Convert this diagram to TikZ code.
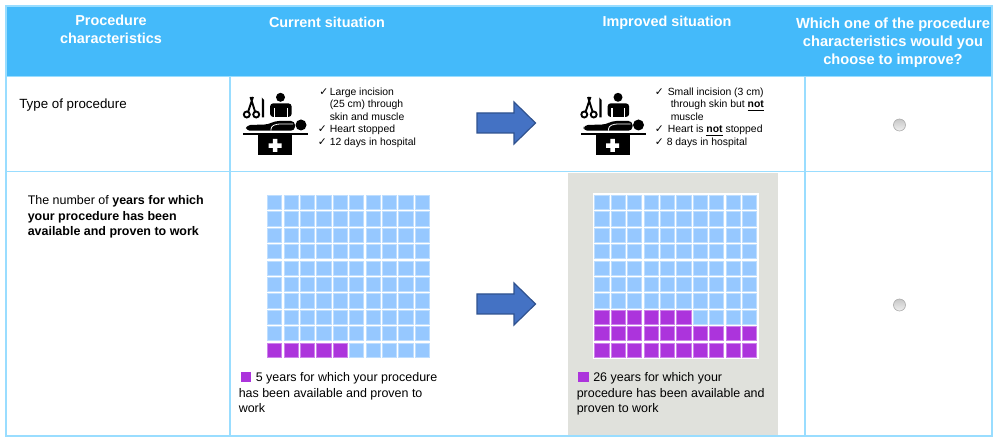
\documentclass[tikz,border=0pt]{standalone}
\usepackage{fontspec}
\setmainfont{Liberation Sans}
\newfontfamily\checkfont{DejaVu Sans}
\definecolor{headblue}{RGB}{68,186,250}
\definecolor{ruleblue}{RGB}{153,221,255}
\definecolor{cellblue}{RGB}{150,200,255}
\definecolor{cellrim}{RGB}{190,222,255}
\definecolor{cellpurple}{RGB}{172,52,220}
\definecolor{rimpurple}{RGB}{205,130,235}
\definecolor{panelgrey}{RGB}{224,225,220}
\definecolor{arrowblue}{RGB}{68,114,196}
\definecolor{arrowrim}{RGB}{47,82,143}
\newcommand{\bignot}{\underline{\textbf{not}}}
\tikzset{
  rule/.style={draw=ruleblue,line width=1.1pt},
  cell/.style={fill=cellblue,draw=cellrim,line width=0.4pt},
  purplecell/.style={fill=cellpurple,draw=rimpurple,line width=0.4pt},
  bigarrow/.style={fill=arrowblue,draw=arrowrim,line width=0.9pt,line join=miter},
  radio/.style={circle,minimum size=9pt,inner sep=0pt,draw=black!32,line width=0.5pt,top color=black!22,bottom color=black!6},
  headtext/.style={anchor=north,inner sep=0.75pt,align=center,text=white,font=\fontsize{10.8}{13}\selectfont\bfseries},
  tabletext/.style={anchor=north west,inner sep=0.75pt,align=left,font=\fontsize{7.8}{9.4}\selectfont},
  checktext/.style={anchor=north west,inner sep=0.75pt,font=\fontsize{8}{9.4}\checkfont},
  bodytext/.style={anchor=north west,inner sep=0.75pt,align=left,font=\fontsize{9.35}{11.6}\selectfont},
  surgery/.pic={
    \begin{scope}[yscale=-1]
    % scissors
    \draw[line width=1.4pt] (4.7,16) -- (10,0) (12.5,16) -- (7.5,0);
    \draw[fill=white,line width=1.4pt] (3.8,17.5) circle (3) (13.2,17.5) circle (3);
    % scalpel
    \fill (18.8,0.5) -- (21,3) -- (21,20.5) -- (18.8,20.5) -- cycle;
    % surgeon
    \fill (37.5,0.3) circle (4.5);
    \fill[rounded corners=2.5pt] (27,20) -- (27,6.3) -- (48.7,6.3) -- (48.7,20) -- cycle;
    \draw[white,line width=0.8pt] (31.5,11.5) -- (31.5,20) (44.2,11.5) -- (44.2,20);
    % patient
    \fill[rounded corners=3pt] (2.7,33.7) -- (3.5,28) -- (25,27.5) -- (32,24) -- (52,24) -- (52,33.7) -- cycle;
    \draw[white,line width=0.6pt,rounded corners=2pt] (28,33.7) -- (28,29.5) -- (34,27) -- (50,27);
    \fill (58,28) circle (5.5);
    % table
    \fill (0.3,35.7) rectangle (65.3,38.5);
    \fill (15.3,38) rectangle (49,58);
    \fill[white] (29.8,42) rectangle (34.3,55) (25.5,46.3) rectangle (38.5,50.8);
    \end{scope}
  }
}
\begin{document}
\begin{tikzpicture}[x=0.75pt,y=0.75pt,yscale=-1,xscale=1]
\useasboundingbox (0,0) rectangle (1000,445);

%Panels
\fill[headblue] (6,6) rectangle (992,76.5);
\fill[panelgrey] (568,173.5) rectangle (778,435.5);

%Table rules
\draw[rule] (6,6) rectangle (992,436);
\draw[rule] (6,76.5) -- (992,76.5);
\draw[rule] (6,171.5) -- (992,171.5);
\draw[rule] (230,76.5) -- (230,436);
\draw[rule] (805,76.5) -- (805,436);

% Text Node
\node (headproc) [headtext] at (111,14) {Procedure\\characteristics};
% Text Node
\node (headcurrent) [headtext] at (327,16) {Current situation};
% Text Node
\node (headimproved) [headtext] at (667,15) {Improved situation};
% Text Node
\node (headchoice) [headtext,font=\fontsize{11}{13.4}\selectfont\bfseries] at (893,17) {Which one of the procedure\\characteristics would you\\choose to improve?};

% Text Node
\node (typelabel) [bodytext,font=\fontsize{10}{12}\selectfont] at (18,97.5) {Type of procedure};
% Text Node
\node (yearslabel) [bodytext] at (26.5,194.5) {The number of \textbf{years for which}\\\textbf{your procedure has been}\\\textbf{available and proven to work}};

%Icons
\pic (icona) at (243,97) {surgery};
\pic (iconb) at (580.5,97) {surgery};

%Check lists
\node (checka) [checktext] at (318,87.5) {✓};
\node (checkb) [checktext] at (316.5,125) {✓};
\node (checkc) [checktext] at (316.5,137.5) {✓};
\node (listcurrent) [tabletext] at (328.5,86.5) {Large incision\\(25 cm) through\\skin and muscle\\Heart stopped\\12 days in hospital};
\node (checkd) [checktext] at (653.7,87.5) {✓};
\node (checke) [checktext] at (653.7,124.5) {✓};
\node (checkf) [checktext] at (653.7,137.5) {✓};
\node (listfirst) [tabletext] at (666.5,86.5) {Small incision (3 cm)};
\node (listsecond) [tabletext] at (669.5,99) {through skin but \bignot\\muscle};
\node (listthird) [tabletext] at (666.5,124) {Heart is \bignot{} stopped};
\node (listfourth) [tabletext] at (665.5,136.5) {8 days in hospital};

%Arrows
\foreach \arrowy in {123,304}{
  \draw[bigarrow] (477,\arrowy-10) -- (514,\arrowy-10) -- (514,\arrowy-21) -- (535.5,\arrowy) -- (514,\arrowy+21) -- (514,\arrowy+10) -- (477,\arrowy+10) -- cycle;
}

%Radio buttons
\node (radioa) [radio] at (899.5,125) {};
\node (radiob) [radio] at (899.5,305) {};

%Current grid
\foreach \col in {0,...,9}{
  \foreach \row in {0,...,9}{
    \draw[cell] (267.5+\col*16.4,195.3+\row*16.4) rectangle +(14.2,14.2);
  }
}
\foreach \col in {0,...,4}{
  \draw[purplecell] (267.5+\col*16.4,342.9) rectangle +(14.2,14.2);
}

%Improved grid
\fill[white] (592.7,193.3) rectangle (758.7,359.5);
\foreach \col in {0,...,9}{
  \foreach \row in {0,...,9}{
    \draw[cell] (594.7+\col*16.4,195.3+\row*16.4) rectangle +(14.2,14.2);
  }
  \draw[purplecell] (594.7+\col*16.4,326.5) rectangle +(14.2,14.2);
  \draw[purplecell] (594.7+\col*16.4,342.9) rectangle +(14.2,14.2);
}
\foreach \col in {0,...,5}{
  \draw[purplecell] (594.7+\col*16.4,310.1) rectangle +(14.2,14.2);
}

%Captions
\fill[cellpurple] (241,372.5) rectangle (251,382.5);
\fill[cellpurple] (578,372.5) rectangle (588.5,382.5);
% Text Node
\node (captionfirst) [bodytext] at (254.5,371.5) {5 years for which your procedure};
% Text Node
\node (captionrest) [bodytext] at (237.5,387) {has been available and proven to\\work};
% Text Node
\node (improvedfirst) [bodytext] at (592,371.5) {26 years for which your};
% Text Node
\node (improvedrest) [bodytext] at (575.5,387) {procedure has been available and\\proven to work};

\end{tikzpicture}
\end{document}
